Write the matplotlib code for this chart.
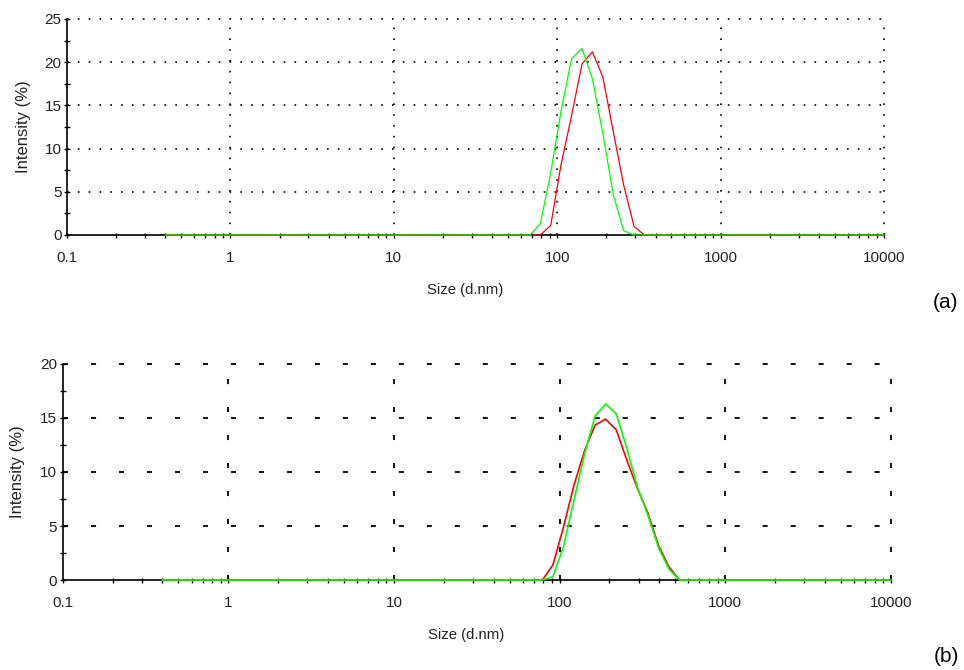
import matplotlib.pyplot as plt
from matplotlib.ticker import LogLocator, MultipleLocator, FixedLocator, FixedFormatter

plt.rcParams['font.family'] = ['Liberation Sans', 'DejaVu Sans']

# size bins (d.nm)
sizes = [0.4, 0.4632, 0.5365, 0.6213, 0.7195, 0.8332, 0.9649,
         1.117, 1.294, 1.499, 1.736, 2.01, 2.328, 2.696, 3.122, 3.615, 4.187, 4.849, 5.615, 6.503, 7.531, 8.721,
         10.1, 11.7, 13.54, 15.69, 18.17, 21.04, 24.36, 28.21, 32.67, 37.84, 43.82, 50.75, 58.77, 68.06, 78.82, 91.28,
         105.7, 122.4, 141.8, 164.2, 190.1, 220.2, 255.0, 295.3, 342.0, 396.1, 458.7, 531.2, 615.1, 712.4, 825.0, 955.4,
         1106, 1281, 1484, 1718, 1990, 2305, 2669, 3091, 3580, 4145, 4801, 5560, 6439, 7456, 8635, 10000]

# panel (a) intensity (%)
a_red = [0, 0, 0, 0, 0, 0, 0,
         0, 0, 0, 0, 0, 0, 0, 0, 0, 0, 0, 0, 0, 0, 0,
         0, 0, 0, 0, 0, 0, 0, 0, 0, 0, 0, 0, 0, 0, 0, 1.1,
         8.2, 13.8, 19.8, 21.2, 18.3, 12.0, 5.8, 1.0, 0, 0, 0, 0, 0, 0, 0, 0,
         0, 0, 0, 0, 0, 0, 0, 0, 0, 0, 0, 0, 0, 0, 0, 0]
a_green = [0, 0, 0, 0, 0, 0, 0,
           0, 0, 0, 0, 0, 0, 0, 0, 0, 0, 0, 0, 0, 0, 0,
           0, 0, 0, 0, 0, 0, 0, 0, 0, 0, 0, 0, 0, 0, 1.3, 7.2,
           14.4, 20.4, 21.6, 18.1, 11.8, 4.7, 0.5, 0, 0, 0, 0, 0, 0, 0, 0, 0,
           0, 0, 0, 0, 0, 0, 0, 0, 0, 0, 0, 0, 0, 0, 0, 0]

# panel (b) intensity (%)
b_red = [0, 0, 0, 0, 0, 0, 0,
         0, 0, 0, 0, 0, 0, 0, 0, 0, 0, 0, 0, 0, 0, 0,
         0, 0, 0, 0, 0, 0, 0, 0, 0, 0, 0, 0, 0, 0, 0, 1.4,
         4.9, 8.8, 12.0, 14.35, 14.9, 13.9, 11.1, 8.5, 6.2, 3.2, 1.2, 0, 0, 0, 0, 0,
         0, 0, 0, 0, 0, 0, 0, 0, 0, 0, 0, 0, 0, 0, 0, 0]
b_green = [0, 0, 0, 0, 0, 0, 0,
           0, 0, 0, 0, 0, 0, 0, 0, 0, 0, 0, 0, 0, 0, 0,
           0, 0, 0, 0, 0, 0, 0, 0, 0, 0, 0, 0, 0, 0, 0, 0.3,
           3.1, 7.4, 11.7, 15.2, 16.3, 15.4, 12.2, 8.6, 6.0, 3.0, 1.0, 0, 0, 0, 0, 0,
           0, 0, 0, 0, 0, 0, 0, 0, 0, 0, 0, 0, 0, 0, 0, 0]

xticks = [0.1, 1, 10, 100, 1000, 10000]
xticklabels = ['0.1', '1', '10', '100', '1000', '10000']

fig = plt.figure(figsize=(9.64, 6.7), dpi=100)
ax1 = fig.add_axes([67/964, 1 - 235/670, 817/964, 216/670])
ax2 = fig.add_axes([62.7/964, 1 - 580/670, 828/964, 216/670])


def style(ax, ymax, grid_ls, lw):
    ax.set_xscale('log')
    ax.set_xlim(0.1, 10000)
    ax.set_ylim(0, ymax)
    for s in ['top', 'right']:
        ax.spines[s].set_visible(False)
    for s in ['left', 'bottom']:
        ax.spines[s].set_linewidth(1.2)
        ax.spines[s].set_color('black')
    ax.xaxis.set_major_locator(FixedLocator(xticks))
    ax.xaxis.set_major_formatter(FixedFormatter(xticklabels))
    ax.xaxis.set_minor_locator(LogLocator(base=10, subs=range(2, 10), numticks=20))
    ax.yaxis.set_major_locator(MultipleLocator(5))
    ax.yaxis.set_minor_locator(MultipleLocator(2.5))
    ax.tick_params(axis='x', which='both', direction='inout', length=3.6, width=1, pad=10,
                   labelsize=11, labelcolor='#222222')
    ax.tick_params(axis='y', which='both', direction='inout', length=5, width=1, pad=1.5,
                   labelsize=11, labelcolor='#222222')
    ax.tick_params(axis='x', which='minor', labelbottom=False)
    for v in range(5, ymax + 1, 5):
        ax.axhline(v, color='black', lw=lw, ls=grid_ls, zorder=1, clip_on=False)
    for v in xticks[1:]:
        ax.axvline(v, color='black', lw=lw, ls=grid_ls, zorder=1, clip_on=False)
    ax.set_xlabel('Size (d.nm)', fontsize=10.7, color='#222222')
    ax.set_ylabel('Intensity (%)', fontsize=12, color='#222222')
    ax.xaxis.set_label_coords(0.487, -0.222)


style(ax1, 25, (0, (1, 5.5)), 1.2)
ax1.yaxis.set_label_coords(-0.044, 0.5)
ax1.plot(sizes, a_red, color='#ff0000', lw=0.9, zorder=3, clip_on=False)
ax1.plot(sizes, a_green, color='#00ff00', lw=0.9, zorder=4, clip_on=False)

style(ax2, 20, (0, (2.8, 12.7)), 1.3)
ax2.yaxis.set_label_coords(-0.045, 0.5)
ax2.plot(sizes, b_red, color='#ff0000', lw=1.2, zorder=3, clip_on=False)
ax2.plot(sizes, b_green, color='#00ff00', lw=1.2, zorder=4, clip_on=False)

fig.text(946/964, 1 - 303/670, '(a)', fontsize=15, ha='center', va='center')
fig.text(946/964, 1 - 657/670, '(b)', fontsize=15, ha='center', va='center')

plt.savefig('out.png', dpi=100)
